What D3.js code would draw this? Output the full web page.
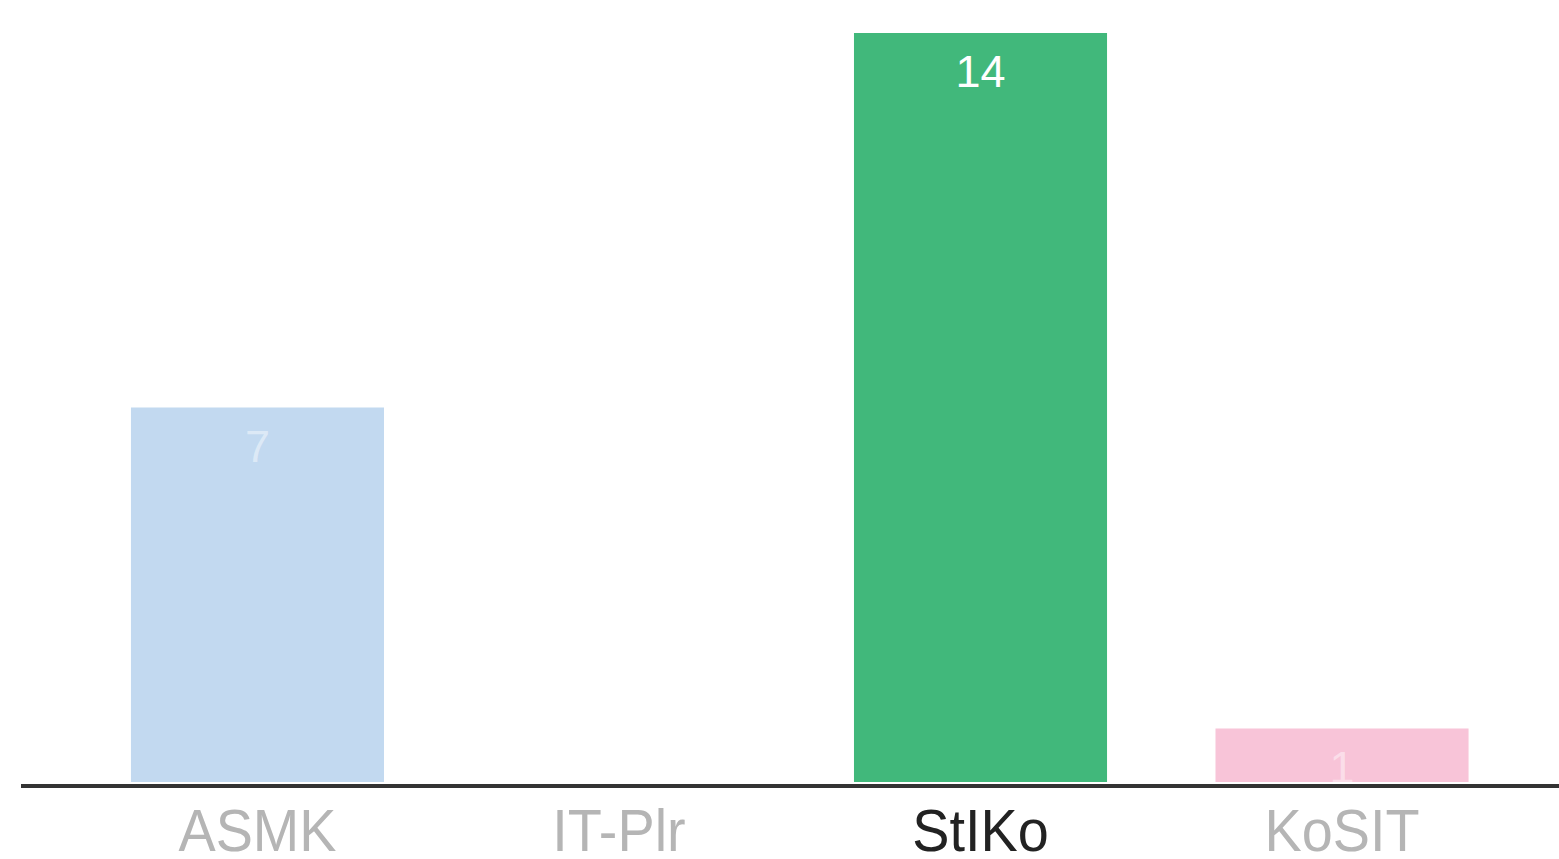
<!DOCTYPE html>
<html><head><meta charset="utf-8">
<script src="https://cdn.jsdelivr.net/npm/d3@7"></script>
<style>html,body{margin:0;padding:0;background:#fff;}svg{display:block;}</style>
</head><body>
<svg id="chart" width="1559" height="859"></svg>
<script>
const categories = ["ASMK", "IT-Plr", "StIKo", "KoSIT"];
const values = [7, 0, 14, 1];
const barColors = ["#c2d9f0", "#d9d9d9", "#41b87b", "#f8c4d8"];
const highlighted = "StIKo";

const svg = d3.select("#chart");
const W = 1559, H = 859;
const baseY = 782;

const x = d3.scaleBand().domain(categories).range([22.5, 1577]).paddingInner(0.3).paddingOuter(0.3);
const y = d3.scaleLinear().domain([0, 14]).range([baseY, 33]);

const data = categories.map((c, i) => ({c, v: values[i], color: barColors[i]}));

svg.selectAll("rect.bar").data(data).join("rect")
  .attr("class", "bar")
  .attr("x", d => x(d.c))
  .attr("y", d => y(d.v))
  .attr("width", x.bandwidth())
  .attr("height", d => baseY - y(d.v))
  .attr("fill", d => d.color);

svg.selectAll("text.val").data(data.filter(d => d.v > 0)).join("text")
  .attr("class", "val")
  .attr("x", d => x(d.c) + x.bandwidth() / 2)
  .attr("y", d => y(d.v) + 54)
  .attr("text-anchor", "middle")
  .attr("font-family", "Liberation Sans, Arial, sans-serif")
  .attr("font-size", 45)
  .attr("fill", "#fff")
  .attr("fill-opacity", d => d.c === highlighted ? 1 : 0.45)
  .text(d => d.v);

// baseline
svg.append("line")
  .attr("x1", 21).attr("x2", W)
  .attr("y1", 786).attr("y2", 786)
  .attr("stroke", "#333").attr("stroke-width", 4);

svg.selectAll("text.cat").data(categories).join("text")
  .attr("class", "cat")
  .attr("transform", d => `translate(${x(d) + x.bandwidth() / 2},851) scale(0.93,1)`)
  .attr("text-anchor", "middle")
  .attr("font-family", "Liberation Sans, Arial, sans-serif")
  .attr("font-size", 60)
  .attr("fill", d => d === highlighted ? "#222" : "#b5b5b5")
  .text(d => d);
</script>
</body></html>
